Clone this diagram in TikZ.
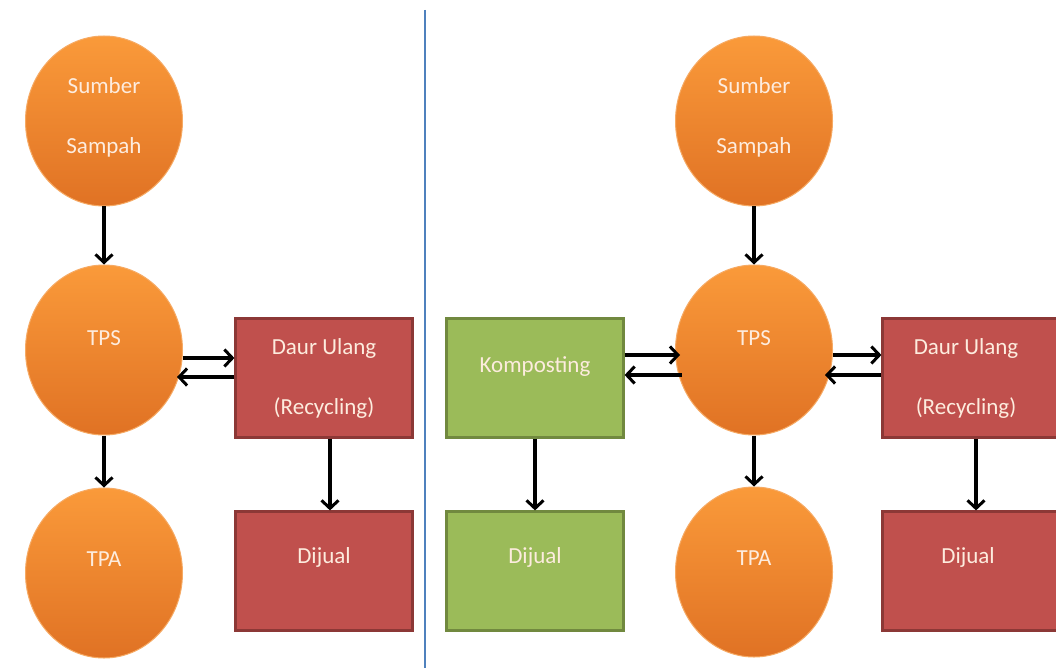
\documentclass[tikz,border=0pt]{standalone}
\usepackage{fontspec}
\setmainfont{Carlito}
\usetikzlibrary{arrows.meta,shapes.geometric}
\definecolor{orgtop}{RGB}{250,154,58}
\definecolor{orgbot}{RGB}{224,114,36}
\definecolor{orgline}{RGB}{246,170,100}
\definecolor{redf}{RGB}{192,80,77}
\definecolor{redd}{RGB}{140,56,54}
\definecolor{grnf}{RGB}{155,187,89}
\definecolor{grnd}{RGB}{113,137,63}
\definecolor{txtc}{RGB}{253,236,222}
\definecolor{sepblue}{RGB}{79,129,189}
\begin{document}
\begin{tikzpicture}[x=1pt,y=-1pt,
  circ/.style={ellipse, minimum width=157pt, minimum height=170pt, inner sep=0pt,
    top color=orgtop, bottom color=orgbot, draw=orgline, line width=1pt},
  lbl/.style={text=txtc, font=\fontsize{23}{60}\selectfont, align=center, inner sep=0pt},
  redbox/.style={rectangle, minimum width=177pt, minimum height=119pt, inner sep=0pt,
    fill=redf, draw=redd, line width=2.2pt},
  grnbox/.style={rectangle, minimum width=177pt, minimum height=119pt, inner sep=0pt,
    fill=grnf, draw=grnd, line width=2.2pt},
  arr/.style={-{Straight Barb[length=8pt,width=17pt,line width=3pt]}, line width=3.4pt, black},
  sepline/.style={draw=sepblue, line width=1.3pt}]
\useasboundingbox (0,0) rectangle (1056,668);
\clip (0,0) rectangle (1056,668);
\fill[white] (0,0) rectangle (1056,668);

% separator
\coordinate (septop) at (425,10);
\coordinate (sepbot) at (425,668);
\draw[sepline] (septop) -- (sepbot);

% ---------- left diagram ----------
\node[circ, label={[lbl,name=sumAt,yshift=4pt]center:Sumber\\Sampah}] (sumA) at (104,121) {};
\node[circ, label={[lbl,name=tpsAt,yshift=12pt]center:TPS}] (tpsA) at (104,350) {};
\node[circ, label={[lbl,name=tpaAt,yshift=14pt]center:TPA}] (tpaA) at (104,573) {};
\node[redbox, label={[lbl,name=duAt]center:Daur Ulang\\(Recycling)}] (duA) at (324,378) {};
\node[redbox, label={[lbl,name=djAt,yshift=14pt]center:Dijual}] (djA) at (324,571) {};

\draw[arr] (sumA.south) -- (tpsA.north);
\draw[arr] (tpsA.south) -- (tpaA.north);
\draw[arr] ([yshift=-8pt]tpsA.east) -- ([yshift=-8pt]tpsA.east -| duA.west);
\draw[arr] ([yshift=-27pt]tpsA.east -| duA.west) -- ([xshift=-6pt,yshift=-27pt]tpsA.east);
\draw[arr] (duA.south -| 330,0) -- (djA.north -| 330,0);

% ---------- right diagram ----------
\node[circ, label={[lbl,name=sumBt,yshift=4pt]center:Sumber\\Sampah}] (sumB) at (754,121) {};
\node[circ, label={[lbl,name=tpsBt,yshift=12pt]center:TPS}] (tpsB) at (754,350) {};
\node[circ, label={[lbl,name=tpaBt,yshift=14pt]center:TPA}] (tpaB) at (754,572) {};
\node[grnbox, label={[lbl,name=kpBt,yshift=11pt]center:Komposting}] (kpB) at (535,378) {};
\node[grnbox, label={[lbl,name=djGt,yshift=14pt]center:Dijual}] (djG) at (535,571) {};
\node[redbox, label={[lbl,name=duBt,xshift=-5pt]center:Daur Ulang\\(Recycling)}] (duB) at (971,378) {};
\node[redbox, label={[lbl,name=djBt,xshift=-3pt,yshift=14pt]center:Dijual}] (djB) at (971,571) {};

\draw[arr] (sumB.south) -- (tpsB.north);
\draw[arr] (tpsB.south) -- (tpaB.north);
% Komposting <-> TPS
\draw[arr] ([yshift=-5pt]kpB.east |- tpsB.west) -- ([yshift=-5pt,xshift=5pt]tpsB.west);
\draw[arr] ([yshift=-25pt,xshift=7pt]tpsB.west) -- ([yshift=-25pt]kpB.east |- tpsB.west);
% TPS <-> Daur Ulang
\draw[arr] ([yshift=-5pt]tpsB.east) -- ([yshift=-5pt]tpsB.east -| duB.west);
\draw[arr] ([yshift=-25pt]tpsB.east -| duB.west) -- ([xshift=-8pt,yshift=-25pt]tpsB.east);
\draw[arr] (kpB.south) -- (djG.north);
\draw[arr] (duB.south -| 976,0) -- (djB.north -| 976,0);
\end{tikzpicture}
\end{document}
